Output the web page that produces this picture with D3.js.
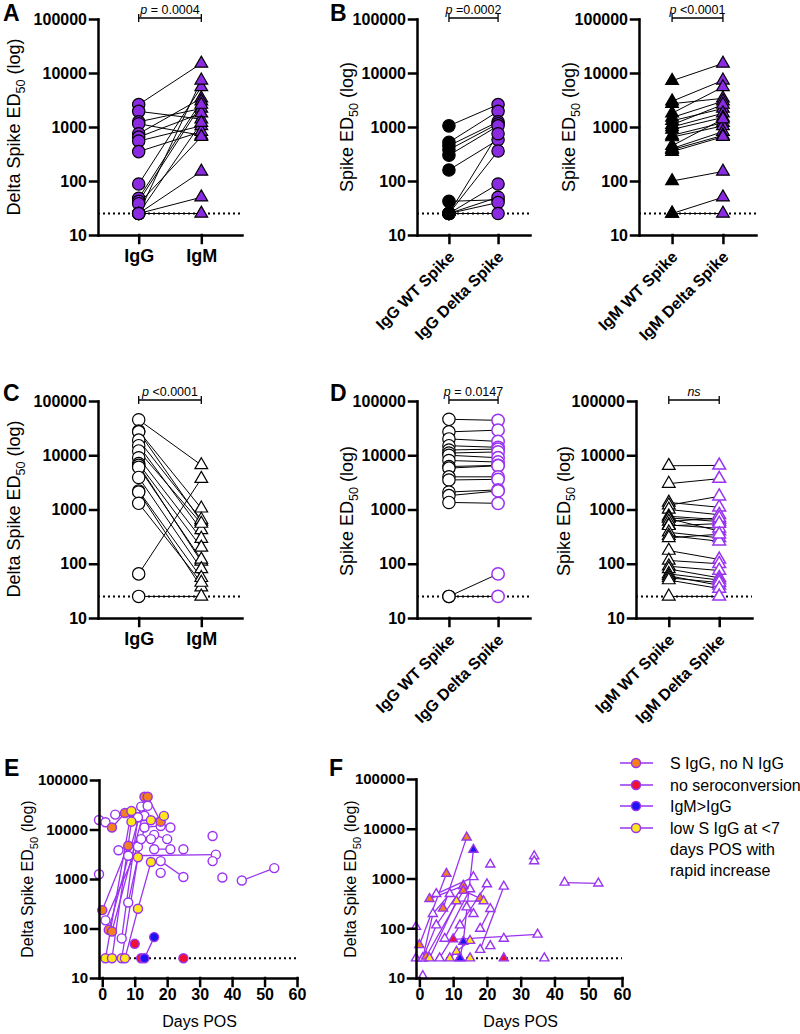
<!DOCTYPE html>
<html>
<head>
<meta charset="utf-8">
<title>Delta Spike ED50</title>
<style>
  html, body { margin: 0; background: #fff; }
  svg { font-family: "Liberation Sans", Arial, sans-serif; }
  .axis path, .axis line { stroke: #000; stroke-width: 2.5px; stroke-linecap: square; }
  .axis text { font-weight: bold; fill: #000; }
</style>
<script src="https://d3js.org/d3.v7.min.js"></script>
</head>
<body>
<div id="chart"></div>
<script>
// ---- data ----
var logTicks = [10, 100, 1000, 10000, 100000];
var dayTicks = [0, 10, 20, 30, 40, 50, 60];

// A: delta spike, IgG vs IgM (paired)
var catsA = ["IgG", "IgM"];
var aIgG = [2600, 1950, 1250, 1150, 750, 650, 550, 350, 88, 48, 42, 38, 25, 25, 25, 25, 25];
var aIgM = [15000, 1400, 2200, 700, 3400, 1800, 1050, 820, 5500, 3000, 2600, 660, 7300, 1200, 150, 50, 25];

// B: WT vs delta spike
var catsBG = ["IgG WT Spike", "IgG Delta Spike"];
var bIgGWT = [1050, 520, 450, 380, 300, 160, 42, 25, 25, 25, 25, 25, 25];
var bIgGDelta = [2600, 1950, 1250, 1150, 1050, 580, 45, 750, 360, 88, 50, 40, 25];
var catsBM = ["IgM WT Spike", "IgM Delta Spike"];
var bIgMWT = [7200, 3000, 2700, 1800, 1500, 1300, 1100, 1000, 900, 700, 650, 450, 400, 380, 350, 100, 25, 25];
var bIgMDelta = [15000, 7300, 3400, 5500, 3000, 2200, 2600, 1800, 1500, 1200, 1050, 1400, 820, 700, 660, 150, 50, 25];

// C
var cIgG = [45000, 28000, 27000, 19000, 15000, 12000, 9000, 7000, 6500, 6000, 3900, 2200, 2100, 1300, 65, 25];
var cIgM = [6600, 1050, 600, 650, 420, 550, 290, 200, 110, 120, 80, 55, 37, 45, 3700, 25];

// D
var dIgGWT = [46000, 27000, 20000, 15000, 12500, 11000, 10000, 8000, 6200, 5800, 4000, 3500, 2100, 1800, 1350, 25, 25];
var dIgGDelta = [44000, 29000, 18000, 14000, 13000, 11500, 9000, 7500, 6500, 6400, 4000, 3600, 2300, 2200, 1300, 65, 25];
var dIgMWT = [6400, 3000, 1350, 1200, 1000, 750, 700, 680, 600, 520, 500, 380, 330, 300, 175, 115, 90, 80, 65, 60, 55, 50, 25];
var dIgMDelta = [6500, 3700, 1100, 1750, 800, 650, 600, 400, 700, 450, 550, 300, 260, 350, 120, 100, 75, 55, 50, 40, 45, 35, 25];

// E: IgG over days POS, one array of [day, ED50] per subject
var eOpen = [
  [[-1, 15600], [1, 14000]],
  [[4, 20000], [11, 17700], [13, 19000]],
  [[-1, 1250]],
  [[1, 146], [11, 4500]],
  [[5, 3800], [12, 6400], [16, 7800], [20, 6400]],
  [[6, 63], [11, 17700], [12, 29000]],
  [[8, 336], [13, 11000], [18, 11800], [21, 11000]],
  [[8, 2950], [35, 3100]],
  [[14, 30000]],
  [[15, 6400], [16, 4000], [21, 4000]],
  [[18, 2300], [25, 1100]],
  [[18, 1330]],
  [[25, 4000]],
  [[34, 7400]],
  [[34, 2300]],
  [[37, 1070]],
  [[43, 930], [53, 1660]]
];
var eOrange = [
  [[0, 235], [8, 4700]],
  [[3, 11000], [7, 21500]],
  [[2, 94], [13, 46000]],
  [[3, 87], [14, 46000], [18, 14400]]
];
var eRed = [[[10, 49]], [[12, 25]], [[25, 25]]];
var eBlue = [[[13, 25], [16, 67]]];
var eYellow = [
  [[1, 25], [9, 23700]],
  [[3, 25], [9, 14400], [15, 15400], [19, 18800]],
  [[6, 25], [11, 2750]],
  [[7, 25], [11, 250], [15, 2200]]
];

// F: IgM over days POS (third item = group of that single point, if it differs)
var fOpen = [
  [[-1, 107]],
  [[-1, 25], [1, 25], [4, 195], [9, 490]],
  [[1, 11]],
  [[1, 25], [5, 115], [13, 710]],
  [[5, 490], [16, 1070]],
  [[6, 25], [12, 115], [20, 770]],
  [[7.5, 62], [15, 610]],
  [[14, 265], [16, 195]],
  [[18, 98], [21, 245]],
  [[18, 37], [25, 690]],
  [[21, 1920]],
  [[21, 44]],
  [[25, 62]],
  [[34, 2820]],
  [[34, 2240]],
  [[37, 25]],
  [[43, 830], [53, 800]]
];
var fOrange = [
  [[0, 46], [8, 1250]],
  [[3, 390], [13, 710]],
  [[7, 250], [14, 6700]],
  [[2, 27], [13, 570], [18, 400]]
];
var fRed = [[[10, 60], [35, 75, "open"]], [[12, 25]], [[25, 25]]];
var fBlue = [[[12, 25], [13, 54], [16, 3800]]];
var fYellow = [
  [[3, 25], [11, 350], [19, 350]],
  [[9, 25], [11, 34], [15, 56]],
  [[15, 25]]
];

var legendLabels = [["S IgG, no N IgG"], ["no seroconversion"], ["IgM>IgG"],
                    ["low S IgG at <7", "days POS with", "rapid increase"]];

// ---- colours ----
var purple = "#8a2be2";
var purpleLine = "#9933f0";
var groupColor = { open: "#fff", orange: "#f2801f", red: "#ee1133", blue: "#1a14f0", yellow: "#ffe81a" };
var legendColors = [groupColor.orange, groupColor.red, groupColor.blue, groupColor.yellow];

var svg = d3.select("#chart").append("svg").attr("width", 800).attr("height", 1034);

function yLabel(x, y, size, prefix) {
  var t = svg.append("text")
    .attr("transform", "translate(" + x + "," + y + ") rotate(-90)")
    .attr("text-anchor", "middle")
    .style("font-size", size + "px");
  t.append("tspan").text(prefix + "ED");
  t.append("tspan").attr("dy", size * 0.3).style("font-size", (size * 0.7) + "px").text("50");
  t.append("tspan").attr("dy", -size * 0.3).text(" (log)");
}

function letter(x, y, s) {
  svg.append("text").attr("x", x).attr("y", y).text(s)
    .style("font-size", "23px").style("font-weight", "bold");
}

function marks(g, pts, shape, size, fill, stroke, sw) {
  var sym = d3.symbol().type(shape === "tri" ? d3.symbolTriangle : d3.symbolCircle).size(size);
  g.selectAll(null).data(pts).join("path")
    .attr("transform", function(d) { return "translate(" + d[0] + "," + d[1] + ")"; })
    .attr("d", sym)
    .attr("fill", function(d) { return d[2] || fill; })
    .attr("stroke", stroke).attr("stroke-width", sw);
}

function paired(o) {
  var g = svg.append("g");
  var y = d3.scaleLog().domain([10, 100000]).range([o.bottom, o.top]);
  var x = d3.scaleLinear().domain([-0.65, 1.65]).range([o.x0, o.x1]);

  g.append("line").attr("x1", o.x0).attr("x2", o.x1).attr("y1", y(25)).attr("y2", y(25))
    .attr("stroke", "#000").attr("stroke-width", 2).attr("stroke-dasharray", "2,3");

  g.selectAll(null).data(d3.zip(o.v1, o.v2)).join("line")
    .attr("x1", x(0)).attr("x2", x(1))
    .attr("y1", function(d) { return y(d[0]); })
    .attr("y2", function(d) { return y(d[1]); })
    .attr("stroke", "#000").attr("stroke-width", 1);

  function sz(s) { return s === "tri" ? 70 : 120; }
  marks(g, o.v1.map(function(v) { return [x(0), y(v)]; }), o.shape1, sz(o.shape1), o.fill1, o.stroke1, 1.2);
  marks(g, o.v2.map(function(v) { return [x(1), y(v)]; }), o.shape2, sz(o.shape2), o.fill2, o.stroke2, o.sw2 || 1.2);

  var ya = g.append("g").attr("class", "axis").attr("transform", "translate(" + o.x0 + ",0)")
    .call(d3.axisLeft(y).tickValues(logTicks).tickFormat(d3.format("d")).tickSize(8).tickSizeOuter(0).tickPadding(3));
  ya.attr("font-size", 16).attr("font-family", null);

  var xa = g.append("g").attr("class", "axis").attr("transform", "translate(0," + o.bottom + ")")
    .call(d3.axisBottom(x).tickValues([0, 1]).tickFormat(function(i) { return o.cats[i]; })
      .tickSize(8).tickSizeOuter(0).tickPadding(6));
  xa.attr("font-family", null);
  if (o.rotate) {
    xa.attr("font-size", 16);
    xa.selectAll(".tick text").attr("y", 0).attr("dy", 0)
      .attr("text-anchor", "end").attr("transform", "translate(6,23) rotate(-45)");
  } else {
    xa.attr("font-size", 18);
  }

  // significance bracket
  var by = o.top - 1, bx1 = x(0), bx2 = x(1);
  g.append("path").attr("d", "M" + bx1 + "," + (by - 4) + "V" + (by + 4) + "M" + bx1 + "," + by + "H" + bx2 +
      "M" + bx2 + "," + (by - 4) + "V" + (by + 4))
    .attr("stroke", "#000").attr("stroke-width", 1.3).attr("fill", "none");
  var pt = g.append("text").attr("x", (bx1 + bx2) / 2).attr("y", by - 4)
    .attr("text-anchor", "middle").style("font-size", "12.5px");
  if (o.p) {
    pt.append("tspan").style("font-style", "italic").text("p");
    pt.append("tspan").text(o.p);
  } else {
    pt.style("font-style", "italic").text("ns");
  }
}

function timePanel(o) {
  var g = svg.append("g");
  var y = d3.scaleLog().domain([10, 100000]).range([o.bottom, o.top]);
  var x = d3.scaleLinear().domain([-1, 60]).range([o.x0, o.x1]);

  g.append("line").attr("x1", o.x0).attr("x2", o.x1).attr("y1", y(25)).attr("y2", y(25))
    .attr("stroke", "#000").attr("stroke-width", 2).attr("stroke-dasharray", "2,3");

  var line = d3.line().x(function(d) { return x(d[0]); }).y(function(d) { return y(d[1]); });
  o.groups.forEach(function(gr) {
    g.selectAll(null).data(gr.subjects.filter(function(s) { return s.length > 1; })).join("path")
      .attr("d", line).attr("fill", "none").attr("stroke", purpleLine).attr("stroke-width", 1.3);
  });
  o.groups.forEach(function(gr) {
    var pts = [];
    gr.subjects.forEach(function(s) {
      s.forEach(function(d) { pts.push([x(d[0]), y(d[1]), d[2] ? groupColor[d[2]] : null]); });
    });
    marks(g, pts, o.shape, o.shape === "tri" ? 36 : 64, groupColor[gr.key], purpleLine, 1.4);
  });

  var ya = g.append("g").attr("class", "axis").attr("transform", "translate(" + o.x0 + ",0)")
    .call(d3.axisLeft(y).tickValues(logTicks).tickFormat(d3.format("d")).tickSize(8).tickSizeOuter(0).tickPadding(3));
  ya.attr("font-size", 15).attr("font-family", null);
  var xa = g.append("g").attr("class", "axis").attr("transform", "translate(0," + o.bottom + ")")
    .call(d3.axisBottom(x).tickValues(dayTicks).tickSize(8).tickSizeOuter(0).tickPadding(3));
  xa.attr("font-size", 16).attr("font-family", null);

  svg.append("text").attr("x", (x(0) + x(60)) / 2).attr("y", o.bottom + 49)
    .attr("text-anchor", "middle").style("font-size", "16px").text("Days POS");
}

// ---- panels ----
letter(3, 21, "A");
yLabel(20, 127, 18, "Delta Spike ");
paired({ x0: 98, x1: 242, top: 19, bottom: 235, cats: catsA, v1: aIgG, v2: aIgM,
  shape1: "circle", shape2: "tri", fill1: purple, stroke1: "#000", fill2: purple, stroke2: "#000", p: " = 0.0004" });

letter(330, 21, "B");
yLabel(353, 127, 18, "Spike ");
paired({ x0: 417, x1: 530, top: 19, bottom: 235, cats: catsBG, v1: bIgGWT, v2: bIgGDelta, rotate: true,
  shape1: "circle", shape2: "circle", fill1: "#000", stroke1: "#000", fill2: purple, stroke2: "#000", p: " =0.0002" });
yLabel(575, 127, 18, "Spike ");
paired({ x0: 639, x1: 756, top: 19, bottom: 235, cats: catsBM, v1: bIgMWT, v2: bIgMDelta, rotate: true,
  shape1: "tri", shape2: "tri", fill1: "#000", stroke1: "#000", fill2: purple, stroke2: "#000", p: " <0.0001" });

letter(3, 401, "C");
yLabel(20, 509, 18, "Delta Spike ");
paired({ x0: 98, x1: 242, top: 401, bottom: 618, cats: catsA, v1: cIgG, v2: cIgM,
  shape1: "circle", shape2: "tri", fill1: "#fff", stroke1: "#000", fill2: "#fff", stroke2: "#000", p: " <0.0001" });

letter(330, 401, "D");
yLabel(353, 511, 18, "Spike ");
paired({ x0: 417, x1: 530, top: 401, bottom: 618, cats: catsBG, v1: dIgGWT, v2: dIgGDelta, rotate: true,
  shape1: "circle", shape2: "circle", fill1: "#fff", stroke1: "#000", fill2: "#fff", stroke2: purpleLine, sw2: 1.5, p: " = 0.0147" });
yLabel(570, 511, 18, "Spike ");
paired({ x0: 636, x1: 752, top: 401, bottom: 618, cats: catsBM, v1: dIgMWT, v2: dIgMDelta, rotate: true,
  shape1: "tri", shape2: "tri", fill1: "#fff", stroke1: "#000", fill2: "#fff", stroke2: purpleLine, sw2: 1.5, p: null });

letter(4, 776, "E");
yLabel(33, 879, 16, "Delta Spike ");
timePanel({ x0: 99, x1: 297, top: 780, bottom: 978, shape: "circle", groups: [
  { key: "open", subjects: eOpen }, { key: "orange", subjects: eOrange }, { key: "yellow", subjects: eYellow },
  { key: "red", subjects: eRed }, { key: "blue", subjects: eBlue }] });

letter(329, 776, "F");
yLabel(356, 879, 16, "Delta Spike ");
timePanel({ x0: 416, x1: 622, top: 779, bottom: 978, shape: "tri", groups: [
  { key: "open", subjects: fOpen }, { key: "orange", subjects: fOrange }, { key: "yellow", subjects: fYellow },
  { key: "red", subjects: fRed }, { key: "blue", subjects: fBlue }] });

// legend
var lg = svg.append("g");
var rowY = [763, 785, 806, 828];
legendLabels.forEach(function(lines, i) {
  lg.append("line").attr("x1", 620).attr("x2", 653).attr("y1", rowY[i]).attr("y2", rowY[i])
    .attr("stroke", purpleLine).attr("stroke-width", 1.5);
  lg.append("circle").attr("cx", 636).attr("cy", rowY[i]).attr("r", 4.5)
    .attr("fill", legendColors[i]).attr("stroke", purpleLine).attr("stroke-width", 1.4);
  var t = lg.append("text").attr("x", 670).attr("y", rowY[i] + 6).style("font-size", "16px");
  lines.forEach(function(s, j) {
    t.append("tspan").attr("x", 670).attr("dy", j === 0 ? 0 : 21).text(s);
  });
});
</script>
</body>
</html>
